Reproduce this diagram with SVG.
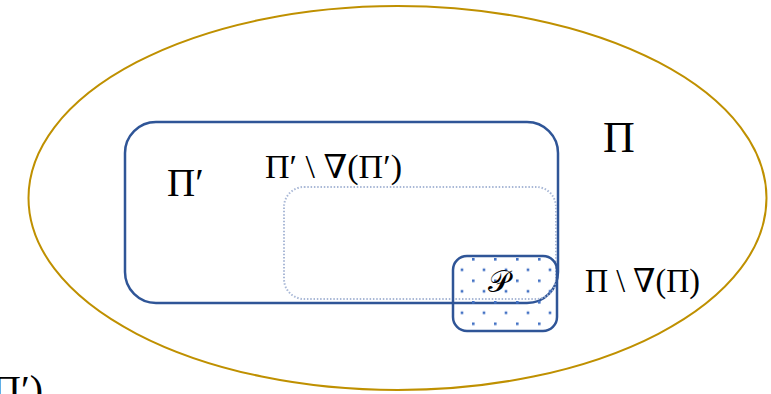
<svg xmlns="http://www.w3.org/2000/svg" width="771" height="394" viewBox="0 0 771 394">
  <style>
    .lbl { font-family: "Liberation Serif", "DejaVu Serif", serif; fill: #000; }
    .blue { fill: none; stroke: #2F5597; stroke-width: 2.5; }
  </style>
  <defs>
    <pattern id="dotpat" x="462" y="258" width="22" height="21.5" patternUnits="userSpaceOnUse">
      <rect x="10" y="0" width="2.6" height="2.6" fill="#4472C4"/>
      <rect x="-1.3" y="10.5" width="2.6" height="2.6" fill="#4472C4"/>
      <rect x="20.7" y="10.5" width="2.6" height="2.6" fill="#4472C4"/>
    </pattern>
  </defs>
  <rect width="771" height="394" fill="#fff"/>
  <g id="Pi">
    <ellipse cx="397.5" cy="198" rx="369" ry="192" fill="none" stroke="#BF9000" stroke-width="2"/>
    <text class="lbl" x="603" y="152" font-size="44">Π</text>
  </g>
  <g id="PiPrime">
    <rect class="blue" x="125" y="122" width="433" height="181" rx="31" ry="31"/>
    <text class="lbl" x="167" y="196" font-size="39">Π′</text>
  </g>
  <g id="PiPrimeMinus">
    <rect x="284" y="187" width="272" height="112" rx="20" ry="20" fill="none" stroke="#A9B8D6" stroke-width="2" stroke-dasharray="1.5 1.8"/>
    <text class="lbl" x="265" y="178" font-size="33" textLength="137" lengthAdjust="spacingAndGlyphs">Π′ \ ∇(Π′)</text>
  </g>
  <g id="P">
    <rect x="453" y="256" width="104" height="75" rx="14" ry="14" fill="url(#dotpat)" stroke="#2F5597" stroke-width="2.5"/>
    <text class="lbl" x="499" y="292" font-size="30" text-anchor="middle">𝒫</text>
  </g>
  <g id="PiMinus">
    <text class="lbl" x="585" y="292" font-size="33" textLength="115" lengthAdjust="spacingAndGlyphs">Π \ ∇(Π)</text>
  </g>
  <g id="clipped">
    <text class="lbl" x="43" y="403" font-size="40" text-anchor="end">∇(Π′)</text>
  </g>
  <g id="connectors"></g>
</svg>
